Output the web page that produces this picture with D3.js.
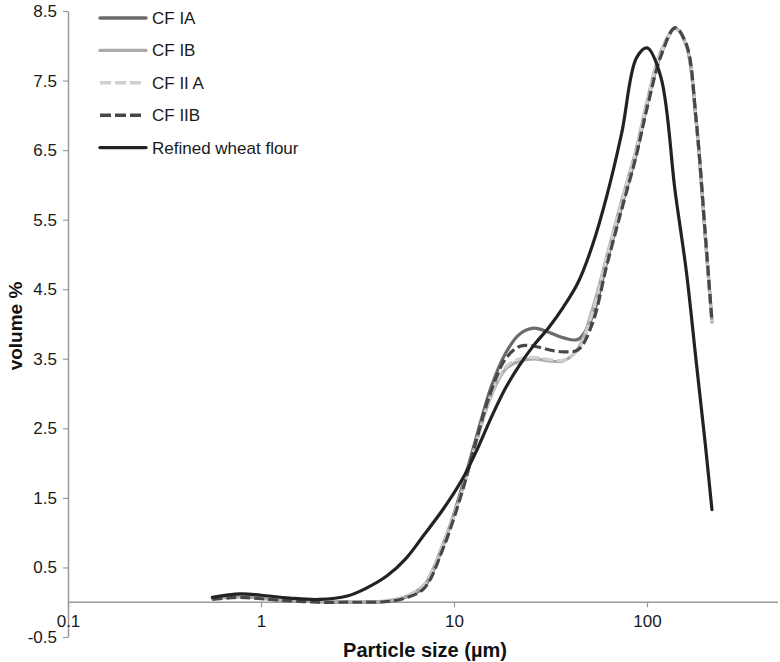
<!DOCTYPE html>
<html>
<head>
<meta charset="utf-8">
<script src="https://cdn.jsdelivr.net/npm/d3@7"></script>
<style>
  body { margin: 0; background: #fff; }
  svg { display: block; }
  text { font-family: "Liberation Sans", Arial, Helvetica, sans-serif; }
</style>
</head>
<body>
<div id="chart"></div>
<script>
// particle size bins (um) shared by all series
const sizes = [0.56, 0.78, 1.0, 1.4, 2.0, 2.8, 3.5, 4.5, 5.6, 7.0, 8.8, 11, 13.2, 15.5, 18.5, 22, 26, 31, 37, 44, 52, 62, 74, 88, 100, 118, 140, 160, 180, 200, 217];

// volume %
const cfIA  = [0.05, 0.09, 0.06, 0.03, 0.01, 0.0, 0.0, 0.01, 0.07, 0.22, 0.82, 1.65, 2.42, 3.08, 3.58, 3.86, 3.94, 3.88, 3.80, 3.78, 4.10, 4.90, 5.70, 6.45, 7.15, 7.88, 8.25, 8.00, 6.90, 5.30, 4.03];
const cfIB  = [0.05, 0.08, 0.06, 0.03, 0.01, 0.0, 0.0, 0.02, 0.08, 0.25, 0.85, 1.60, 2.35, 2.95, 3.35, 3.47, 3.50, 3.47, 3.47, 3.65, 4.20, 4.98, 5.78, 6.52, 7.20, 7.92, 8.25, 8.00, 6.90, 5.30, 4.03];
const cfIIA = [0.05, 0.08, 0.06, 0.03, 0.01, 0.0, 0.0, 0.02, 0.08, 0.24, 0.83, 1.60, 2.36, 2.97, 3.38, 3.50, 3.52, 3.49, 3.48, 3.63, 4.15, 4.95, 5.75, 6.50, 7.18, 7.90, 8.24, 8.00, 6.90, 5.30, 4.03];
const cfIIB = [0.04, 0.07, 0.05, 0.02, 0.0, 0.0, 0.0, 0.01, 0.06, 0.20, 0.78, 1.58, 2.38, 3.02, 3.50, 3.68, 3.68, 3.63, 3.60, 3.63, 4.00, 4.85, 5.65, 6.42, 7.10, 7.85, 8.26, 8.02, 6.92, 5.32, 4.05];
const rwf   = [0.07, 0.12, 0.10, 0.06, 0.04, 0.09, 0.20, 0.38, 0.62, 0.97, 1.34, 1.76, 2.20, 2.64, 3.08, 3.42, 3.70, 3.95, 4.25, 4.60, 5.12, 5.85, 6.75, 7.82, 7.97, 7.55, 5.90, 4.75, 3.45, 2.30, 1.33];

const seriesNames = ['CF IA', 'CF IB', 'CF II A', 'CF IIB', 'Refined wheat flour'];
const seriesValues = [cfIA, cfIB, cfIIA, cfIIB, rwf];
const seriesColors = ['#6b6b6b', '#ababab', '#d0d0d0', '#474747', '#222222'];
const seriesDashed = [false, false, true, true, false];

const yTicks = [-0.5, 0.5, 1.5, 2.5, 3.5, 4.5, 5.5, 6.5, 7.5, 8.5];
const xTicks = [0.1, 1, 10, 100];

const width = 780, height = 662;
const svg = d3.select('#chart').append('svg')
  .attr('width', width)
  .attr('height', height);

const x = d3.scaleLog().domain([0.1, 1000]).range([68, 840]);
const y = d3.scaleLinear().domain([-0.5, 8.5]).range([637, 11]);
const axisColor = '#9a9a9a';

// y axis
const yAxis = svg.append('g')
  .attr('transform', 'translate(68,0)')
  .call(d3.axisLeft(y).tickValues(yTicks).tickSize(5).tickSizeOuter(0).tickPadding(6)
    .tickFormat(d => d.toFixed(1)));
yAxis.select('.domain').attr('stroke', axisColor).attr('stroke-width', 1.5);
yAxis.selectAll('.tick line').attr('stroke', axisColor).attr('stroke-width', 1.2);
yAxis.selectAll('.tick text').attr('fill', '#1a1a1a').style('font-size', '17px');

// x axis sits at zero
const xAxis = svg.append('g')
  .attr('transform', `translate(0,${y(0)})`)
  .call(d3.axisBottom(x).tickValues(xTicks).tickSize(5).tickSizeOuter(0).tickPadding(8)
    .tickFormat(d => String(d)));
xAxis.select('.domain').remove();
xAxis.append('line')
  .attr('x1', 68).attr('x2', 778)
  .attr('stroke', axisColor).attr('stroke-width', 1.5);
xAxis.selectAll('.tick line').attr('stroke', axisColor).attr('stroke-width', 1.2);
xAxis.selectAll('.tick text').attr('fill', '#1a1a1a').style('font-size', '17px');

// axis titles
svg.append('text')
  .attr('x', 425).attr('y', 657)
  .attr('text-anchor', 'middle')
  .style('font-size', '20px').style('font-weight', 'bold')
  .attr('fill', '#111')
  .text('Particle size (\u00b5m)');

svg.append('text')
  .attr('transform', 'translate(22,326) rotate(-90)')
  .attr('text-anchor', 'middle')
  .style('font-size', '19px').style('font-weight', 'bold')
  .attr('fill', '#111')
  .text('volume %');

// lines
const line = d3.line()
  .x(d => x(d[0]))
  .y(d => y(d[1]))
  .curve(d3.curveCatmullRom.alpha(0.5));

seriesValues.forEach((vals, i) => {
  const pts = sizes.map((s, j) => [s, vals[j]]);
  svg.append('path')
    .datum(pts)
    .attr('fill', 'none')
    .attr('stroke', seriesColors[i])
    .attr('stroke-width', 3.2)
    .attr('stroke-linejoin', 'round')
    .attr('stroke-linecap', seriesDashed[i] ? 'butt' : 'round')
    .attr('stroke-dasharray', seriesDashed[i] ? '10,4' : null)
    .attr('d', line);
});

// legend
const legend = svg.append('g');
seriesNames.forEach((name, i) => {
  const ly = 18 + i * 32.4;
  legend.append('line')
    .attr('x1', 100).attr('x2', seriesDashed[i] ? 142 : 146)
    .attr('y1', ly).attr('y2', ly)
    .attr('stroke', seriesColors[i])
    .attr('stroke-width', 3.4)
    .attr('stroke-linecap', seriesDashed[i] ? 'butt' : 'round')
    .attr('stroke-dasharray', seriesDashed[i] ? '11,4' : null);
  legend.append('text')
    .attr('x', 152).attr('y', ly)
    .attr('dy', '0.35em')
    .style('font-size', '17px')
    .attr('fill', '#1a1a1a')
    .text(name);
});
</script>
</body>
</html>
